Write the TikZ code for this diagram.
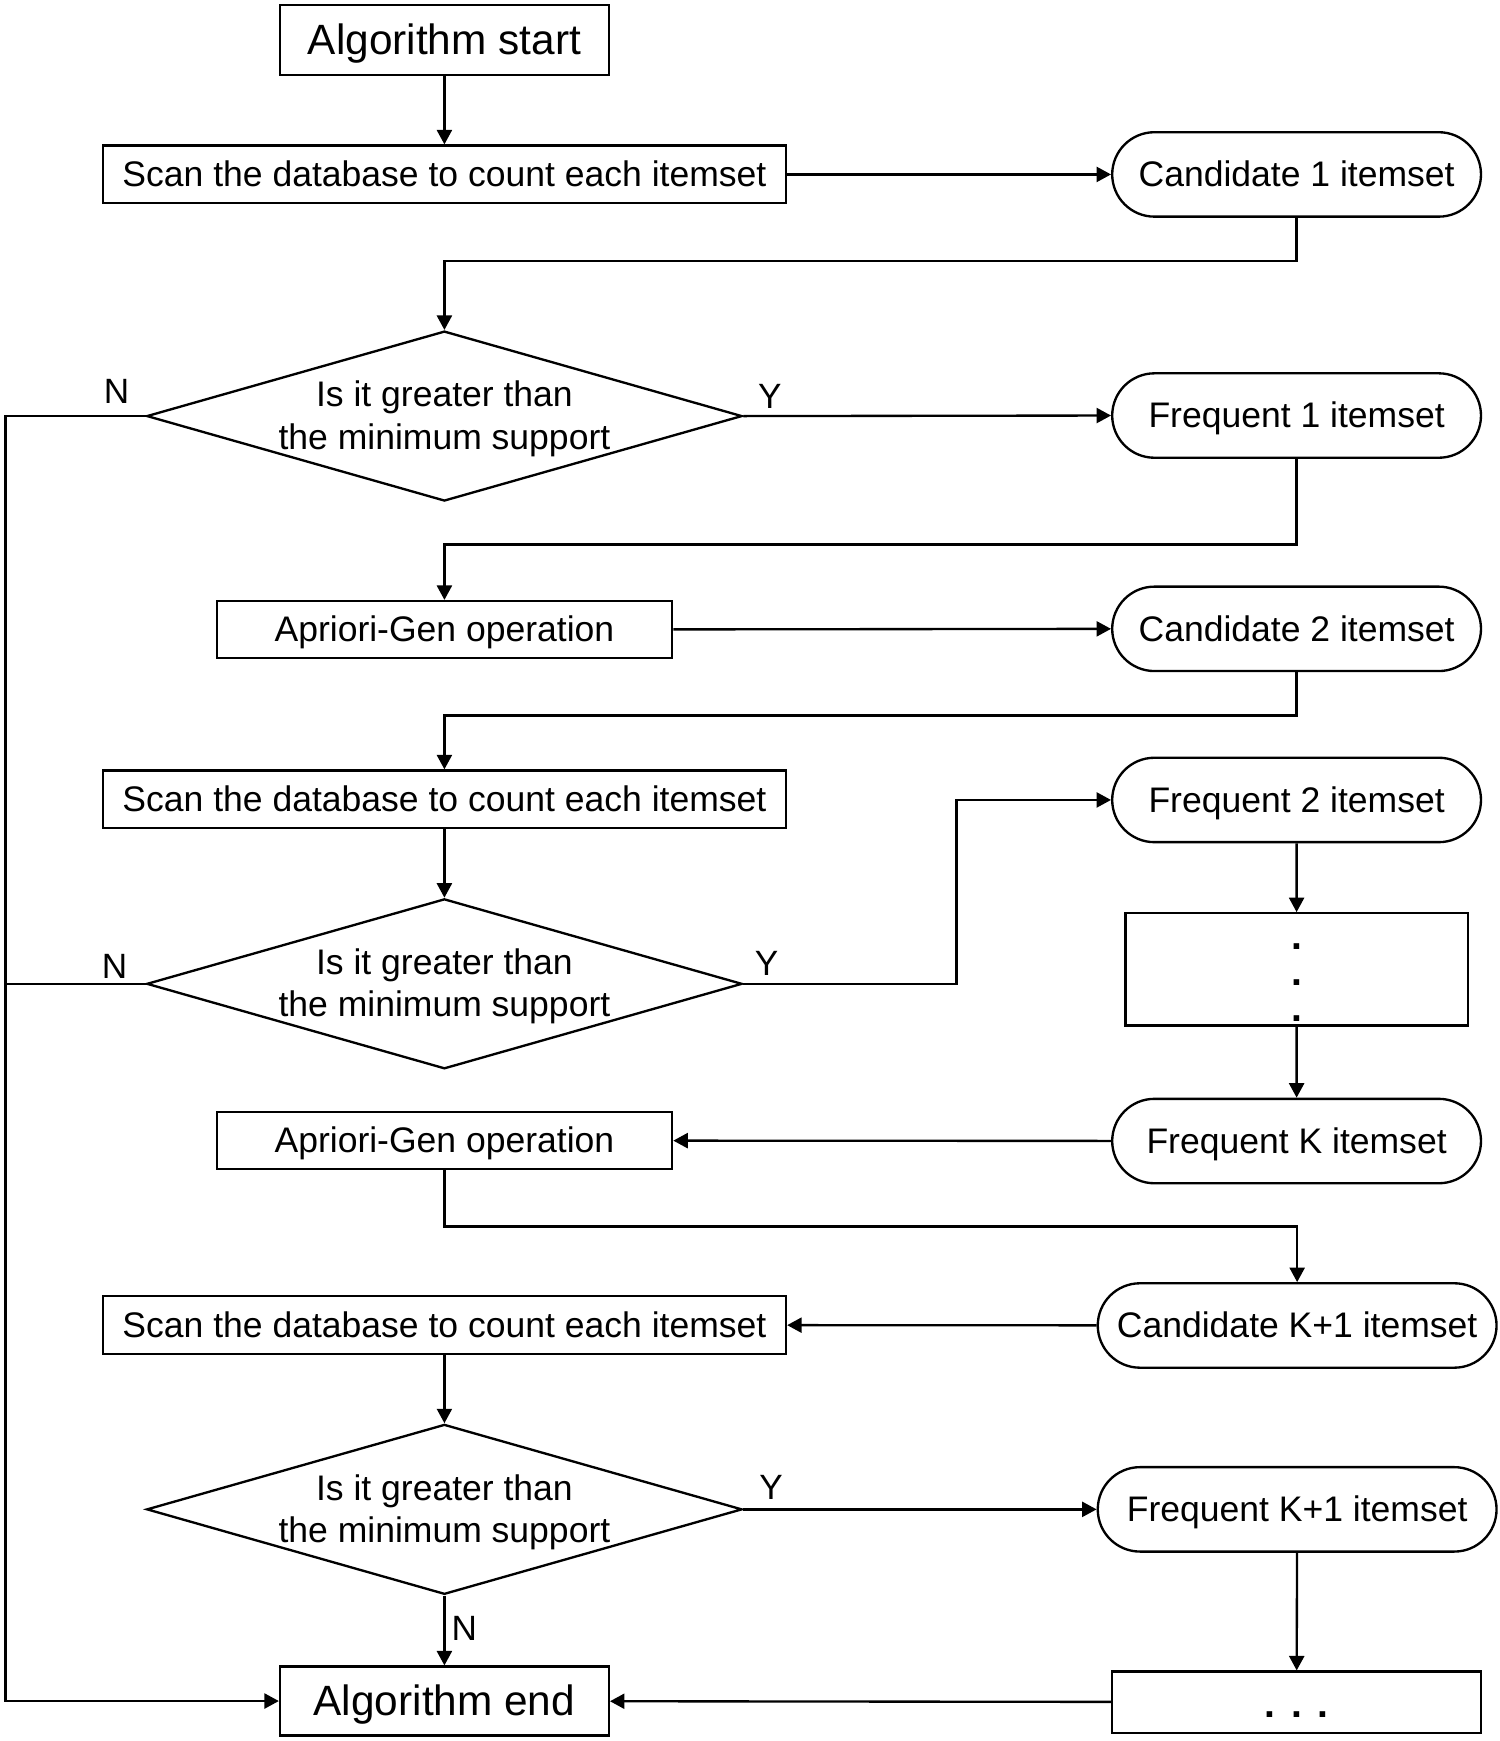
\documentclass[tikz,border=0pt]{standalone}
\usepackage{fontspec}
\setmainfont{Liberation Sans}
\usetikzlibrary{shapes.geometric,shapes.misc,arrows.meta}
\begin{document}
\begin{tikzpicture}[x=0.02cm,y=-0.02cm,
  box/.style={draw, line width=1.2pt, inner sep=0pt, text height=16.4pt, text depth=3.9pt, font=\fontsize{18.2}{21.6}\selectfont},
  term/.style={box, minimum width=5.92cm, minimum height=1.26cm, text height=19.5pt, text depth=4.6pt, font=\fontsize{21.7}{26}\selectfont},
  scanbox/.style={box, minimum width=12.3cm, minimum height=1.04cm},
  aprbox/.style={box, minimum width=8.2cm, minimum height=1.02cm},
  setbox/.style={box, rounded rectangle, minimum width=6.64cm, minimum height=1.52cm},
  widesetbox/.style={setbox, minimum width=7.18cm},
  dia/.style={draw, diamond, line width=1.2pt, minimum width=10.72cm, minimum height=3.06cm, inner sep=0pt},
  qtext/.style={align=center, inner sep=0pt, font=\fontsize{18.2}{21.6}\selectfont},
  arr/.style={-{Triangle[length=0.26cm,width=0.27cm]}, line width=1.2pt},
  plain/.style={line width=1.2pt},
  lab/.style={font=\fontsize{18}{21}\selectfont, inner sep=0pt},
  dotlab/.style={font=\fontsize{20}{24}\selectfont\bfseries, inner sep=0pt, anchor=base}
]
\useasboundingbox (0,0) rectangle (1350,1567);

% left column
\node[term] (start) at (400,36) {Algorithm start};
\node[scanbox] (scan1) at (400,157) {Scan the database to count each itemset};
\node[dia] (d1) at (400,374.5) {};
\node[qtext] (q1) at (400,377) {Is it greater than\\the minimum support};
\node[aprbox] (apr1) at (400,566.5) {Apriori-Gen operation};
\node[scanbox] (scan2) at (400,719.5) {Scan the database to count each itemset};
\node[dia] (d2) at (400,885.5) {};
\node[qtext] (q2) at (400,888) {Is it greater than\\the minimum support};
\node[aprbox] (apr2) at (400,1026.5) {Apriori-Gen operation};
\node[scanbox] (scan3) at (400,1192.5) {Scan the database to count each itemset};
\node[dia] (d3) at (400,1358.5) {};
\node[qtext] (q3) at (400,1361) {Is it greater than\\the minimum support};
\node[term, minimum height=1.24cm] (end) at (400,1531) {Algorithm end};

% right column
\node[setbox] (cand1) at (1167,157) {Candidate 1 itemset};
\node[setbox] (freq1) at (1167,374) {Frequent 1 itemset};
\node[setbox] (cand2) at (1167,566) {Candidate 2 itemset};
\node[setbox] (freq2) at (1167,720) {Frequent 2 itemset};
\node[box, minimum width=6.16cm, minimum height=2.02cm] (dots) at (1167,872.5) {};
\node[dotlab] (dt1) at (1167,855) {.};
\node[dotlab] (dt2) at (1167,887) {.};
\node[dotlab] (dt3) at (1167,919) {.};
\node[setbox] (freqK) at (1167,1027) {Frequent K itemset};
\node[widesetbox] (candK1) at (1167.5,1193) {Candidate K+1 itemset};
\node[widesetbox] (freqK1) at (1167.5,1358.5) {Frequent K+1 itemset};
\node[draw, line width=1.2pt, minimum width=6.64cm, minimum height=1.1cm, inner sep=0pt] (ell) at (1167,1532) {};
\node[dotlab] (ellt) at (1167,1546) {.\hspace{0.28cm}.\hspace{0.28cm}.};

% labels
\node[lab] (n1) at (105,352) {N};
\node[lab] (y1) at (693,357) {Y};
\node[lab] (n2) at (103,870) {N};
\node[lab] (y2) at (690,867) {Y};
\node[lab] (y3) at (694,1339) {Y};
\node[lab] (n3) at (418,1466) {N};

\coordinate (L3) at (5,1531);

% connectors
\draw[arr] (start) -- (scan1);
\draw[arr] (scan1) -- (cand1);
\draw[arr] (cand1.south) -- ++(0,39) -| (d1.north);
\draw[arr] (d1.east) -- (freq1.west);
\draw[arr] (d1.west) -| (L3) -- (end.west);
\draw[arr] (freq1.south) -- ++(0,77) -| (apr1.north);
\draw[arr] (apr1.east) -- (cand2.west);
\draw[arr] (cand2.south) -- ++(0,39) -| (scan2.north);
\draw[arr] (scan2) -- (d2.north);
\draw[plain] (d2.west) -- (d2.west -| L3);
\draw[arr] (d2.east) -- ++(192,0) |- (freq2.west);
\draw[arr] (freq2) -- (dots);
\draw[arr] (dots) -- (freqK);
\draw[arr] (freqK) -- (apr2);
\draw[arr] (apr2.south) -- ++(0,51) -| (candK1.north);
\draw[arr] (candK1) -- (scan3);
\draw[arr] (scan3) -- (d3.north);
\draw[arr] (d3.east) -- (freqK1.west);
\draw[arr] (freqK1) -- (ell);
\draw[arr] (ell) -- (end);
\draw[arr] (d3.south) -- (end.north);
\end{tikzpicture}
\end{document}
